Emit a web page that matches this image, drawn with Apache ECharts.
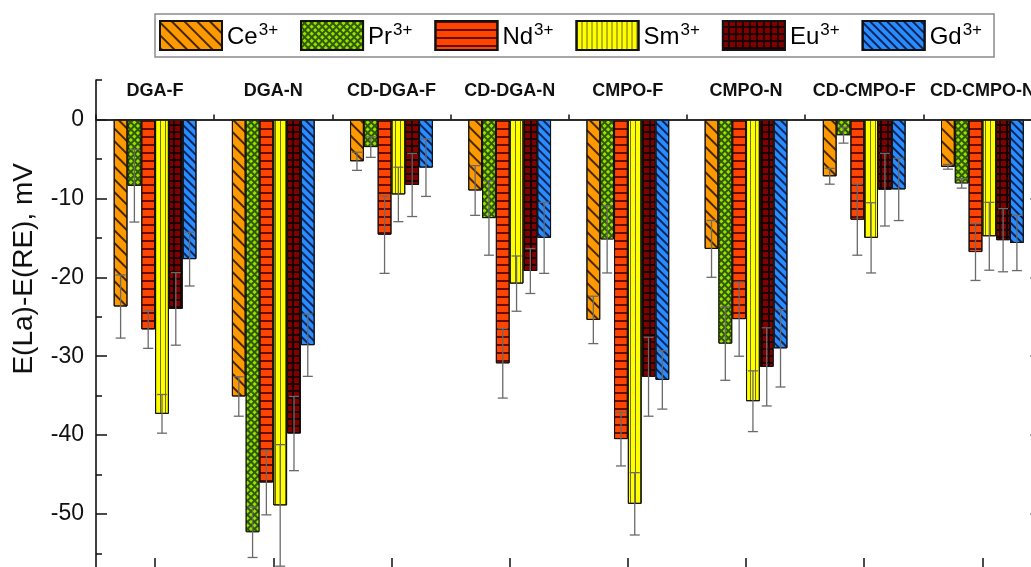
<!DOCTYPE html>
<html>
<head>
<meta charset="utf-8">
<script src="https://cdn.jsdelivr.net/npm/echarts@6/dist/echarts.min.js"></script>
<style>
html,body{margin:0;padding:0;background:#fff;}
#c{width:1031px;height:567px;}
</style>
</head>
<body>
<div id="c"></div>
<script>
// ---- data ----
const categories = ['DGA-F','DGA-N','CD-DGA-F','CD-DGA-N','CMPO-F','CMPO-N','CD-CMPO-F','CD-CMPO-N'];
const ions = ['Ce','Pr','Nd','Sm','Eu','Gd'];
const ce    = [-23.7, -35.1, -5.3, -9.0, -25.4, -16.4, -7.2, -6.0];
const ceErr = [4.0, 2.5, 1.15, 3.15, 3.0, 3.6, 1.0, 0.3];
const pr    = [-8.4, -52.3, -3.5, -12.5, -15.2, -28.4, -2.0, -8.1];
const prErr = [4.6, 3.2, 1.3, 4.7, 4.25, 4.65, 1.0, 0.6];
const nd    = [-26.6, -46.0, -14.6, -30.9, -40.5, -25.3, -12.7, -16.8];
const ndErr = [2.4, 4.1, 4.9, 4.4, 3.4, 4.7, 4.5, 3.6];
const sm    = [-37.3, -48.9, -9.5, -20.8, -48.7, -35.7, -15.0, -14.8];
const smErr = [2.45, 7.7, 3.45, 3.5, 3.95, 3.85, 4.45, 4.3];
const eu    = [-24.0, -39.8, -8.3, -19.2, -32.6, -31.35, -8.9, -15.3];
const euErr = [4.6, 4.7, 4.0, 2.85, 5.0, 4.95, 4.6, 4.0];
const gd    = [-17.7, -28.6, -6.1, -15.0, -33.0, -29.0, -8.86, -15.65];
const gdErr = [3.4, 3.95, 3.65, 4.5, 3.7, 4.9, 3.95, 3.5];
const yMin = -60, yMax = 5, yMajor = 10, yMinor = 5;
const yTitle = 'E(La)-E(RE), mV';

const values = [ce, pr, nd, sm, eu, gd];
const errors = [ceErr, prErr, ndErr, smErr, euErr, gdErr];

// ---- styles ----
const FONT = "'Liberation Sans', Arial, sans-serif";
const BARW = 13.8;
const fills = ['#ff9900', '#8fd400', '#ff4400', '#ffff00', '#7a0000', '#2a8cff'];
const decals = [
  { symbol:'rect', symbolSize:1, color:'rgba(40,20,0,0.85)', dashArrayX:[1,0], dashArrayY:[1.1,6.2], rotation:Math.PI/4 },
  { symbol:'rect', symbolSize:1, color:'#9be000', backgroundColor:'#2f5a00', dashArrayX:[2.6,1.2], dashArrayY:[2.6,1.2], rotation:Math.PI/4 },
  { symbol:'rect', symbolSize:1, color:'rgba(60,0,0,0.8)', dashArrayX:[1,0], dashArrayY:[1.1,5.6] },
  { symbol:'rect', symbolSize:1, color:'rgba(60,60,0,0.75)', dashArrayX:[1,3.4], dashArrayY:[1,0] },
  { symbol:'rect', symbolSize:1, color:'#800000', backgroundColor:'#1a0000', dashArrayX:[4.8,1.1], dashArrayY:[4.8,1.1] },
  { symbol:'rect', symbolSize:1, color:'rgba(0,20,60,0.85)', dashArrayX:[1,0], dashArrayY:[1.1,3.2], rotation:Math.PI/4 }
];

const series = [];
ions.forEach((ion, i) => {
  const s = {
    name: ion, type: 'bar', xAxisIndex: 0, yAxisIndex: 0,
    data: values[i], barWidth: BARW, barGap: '0%',
    itemStyle: { color: fills[i], borderColor: '#111', borderWidth: 1, decal: decals[i] },
    emphasis: { disabled: true }, z: 2
  };
  if (i === 0) {
    s.markLine = { silent: true, symbol: 'none', label: { show: false },
      lineStyle: { color: '#222', width: 1.6, type: 'solid' }, data: [{ yAxis: 0 }] };
  }
  series.push(s);
});
ions.forEach((ion, i) => {
  series.push({
    name: ion + '-err', type: 'custom', xAxisIndex: 0, yAxisIndex: 0, z: 5,
    data: values[i].map((v, k) => [k, v, errors[i][k]]),
    renderItem: function (params, api) {
      const cat = api.value(0), v = api.value(1), e = api.value(2);
      const off = (i - 2.5) * BARW;
      const hi = api.coord([cat, v + e]);
      const lo = api.coord([cat, v - e]);
      const x = hi[0] + off;
      const st = { stroke: '#6a6a6a', lineWidth: 1.3 };
      return { type: 'group', children: [
        { type: 'line', shape: { x1: x, y1: hi[1], x2: x, y2: lo[1] }, style: st },
        { type: 'line', shape: { x1: x - 5, y1: hi[1], x2: x + 5, y2: hi[1] }, style: st },
        { type: 'line', shape: { x1: x - 5, y1: lo[1], x2: x + 5, y2: lo[1] }, style: st }
      ]};
    }
  });
});

const option = {
  animation: false,
  backgroundColor: '#fff',
  legend: {
    data: ions, left: 155, top: 14, orient: 'horizontal',
    itemWidth: 62, itemHeight: 29, itemGap: 22,
    padding: [6, 12, 6, 4],
    borderColor: '#8a8a8a', borderWidth: 1.5,
    icon: 'rect',
    formatter: function (n) { return '{n|' + n + '}{s|3+}'; },
    textStyle: { color: '#000', fontFamily: FONT,
      rich: { n: { fontSize: 24, fontFamily: FONT, color: '#000', verticalAlign: 'bottom' },
              s: { fontSize: 17, fontFamily: FONT, color: '#000', verticalAlign: 'bottom', padding: [0, 0, 11, 1] } } }
  },
  grid: [
    { left: 96, right: -10.5, top: 80, bottom: -26, outerBoundsMode: 'none', containLabel: false },
    { left: 96, right: -10.5, top: 119.46, bottom: -26, outerBoundsMode: 'none', containLabel: false }
  ],
  xAxis: [
    { type: 'category', gridIndex: 0, data: categories, position: 'bottom', offset: -24,
      axisLine: { show: true, lineStyle: { color: '#111', width: 1.6 } },
      axisTick: { show: true, inside: true, length: 5, interval: 0, lineStyle: { color: '#111', width: 1.5 } },
      axisLabel: { show: false }, splitLine: { show: false } },
    { type: 'category', gridIndex: 0, data: categories, position: 'bottom', offset: -24,
      axisLine: { show: false },
      axisTick: { show: true, inside: true, length: 11, interval: 0, alignWithLabel: true, lineStyle: { color: '#111', width: 1.5 } },
      axisLabel: { show: false }, splitLine: { show: false } },
    { type: 'category', gridIndex: 0, data: categories, position: 'top',
      axisLine: { show: false }, axisTick: { show: false },
      axisLabel: { show: true, inside: true, interval: 0, margin: 2, fontFamily: FONT, fontSize: 18, fontWeight: 'bold', color: '#111' },
      splitLine: { show: false } },
    { type: 'category', gridIndex: 1, data: categories, show: false }
  ],
  yAxis: [
    { type: 'value', gridIndex: 0, min: yMin, max: yMax, interval: yMinor, position: 'left',
      axisLine: { show: true, lineStyle: { color: '#111', width: 1.6 } },
      axisTick: { show: true, inside: true, length: 6, lineStyle: { color: '#111', width: 1.5 } },
      axisLabel: { show: false }, splitLine: { show: false } },
    { type: 'value', gridIndex: 1, min: yMin, max: 0, interval: yMajor, position: 'left',
      axisLine: { show: false },
      axisTick: { show: true, inside: true, length: 11, lineStyle: { color: '#111', width: 1.5 } },
      axisLabel: { show: true, margin: 12, fontFamily: FONT, fontSize: 23, color: '#111' },
      splitLine: { show: false } },
    { type: 'value', gridIndex: 1, min: yMin, max: 0, interval: yMajor, position: 'right',
      axisLine: { show: true, lineStyle: { color: '#111', width: 1.6 } },
      axisTick: { show: true, inside: true, length: 11, lineStyle: { color: '#111', width: 1.5 } },
      axisLabel: { show: false }, splitLine: { show: false } }
  ],
  graphic: [
    { type: 'text', left: 10, top: 163, z: 10,
      rotation: Math.PI / 2,
      style: { text: yTitle, fontFamily: FONT, fontSize: 28, fill: '#111' } }
  ],
  series: series
};

const chart = echarts.init(document.getElementById('c'), null, { renderer: 'canvas' });
chart.setOption(option);
</script>
</body>
</html>
